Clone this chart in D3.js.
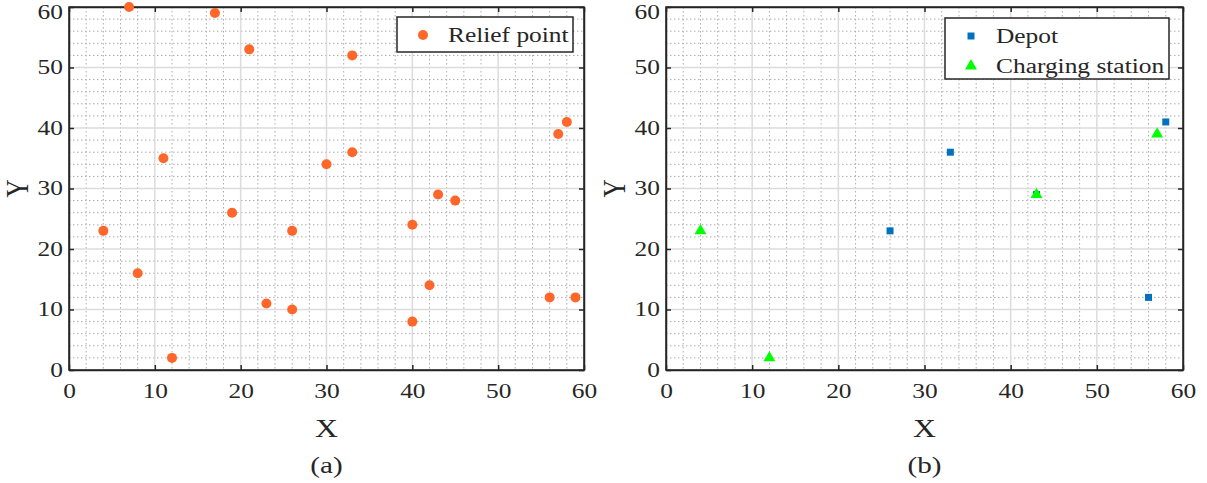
<!DOCTYPE html>
<html>
<head>
<meta charset="utf-8">
<script src="https://cdn.jsdelivr.net/npm/d3@7"></script>
<style>
  html, body { margin: 0; padding: 0; background: #fff; }
  svg text { font-family: "Liberation Serif", "Times New Roman", serif; fill: #262626; }
</style>
</head>
<body>
<svg id="chart" width="1207" height="483"></svg>
<script>
"use strict";

// Relief points (panel a)
const reliefX = [7, 17, 21, 33, 11, 58, 57, 30, 33, 43, 45, 19, 4, 26, 40, 8, 42, 56, 59, 23, 26, 40, 12];
const reliefY = [60, 59, 53, 52, 35, 41, 39, 34, 36, 29, 28, 26, 23, 23, 24, 16, 14, 12, 12, 11, 10, 8, 2];

// Depots and charging stations (panel b)
const depotX = [26, 33, 43, 56, 58];
const depotY = [23, 36, 29, 12, 41];
const chargeX = [4, 12, 43, 57];
const chargeY = [23, 2, 29, 39];

const majorTicks = [0, 10, 20, 30, 40, 50, 60];
const minorTicks = d3.range(0, 61, 2);
const captions = ["(a)", "(b)"];

const SX = 1.27;           // figure was stretched horizontally, text too
const AXIS_COLOR = "#262626";

const svg = d3.select("#chart");

/**
 * Draws one framed panel with grids, ticks and labels, returns the scales.
 */
function drawPanel(left, right, top, bottom, caption) {
  const x = d3.scaleLinear().domain([0, 60]).range([left, right]);
  const y = d3.scaleLinear().domain([0, 60]).range([bottom, top]);
  const g = svg.append("g");

  // minor dotted grid
  g.selectAll("line.minx")
      .data(minorTicks.filter(v => v % 10 !== 0))
    .enter().append("line")
      .attr("x1", d => x(d)).attr("x2", d => x(d))
      .attr("y1", top).attr("y2", bottom)
      .attr("stroke", "#acacac").attr("stroke-width", 1)
      .attr("stroke-dasharray", "1.5,2.5");
  g.selectAll("line.miny")
      .data(minorTicks.filter(v => v % 10 !== 0))
    .enter().append("line")
      .attr("y1", d => y(d)).attr("y2", d => y(d))
      .attr("x1", left).attr("x2", right)
      .attr("stroke", "#acacac").attr("stroke-width", 1)
      .attr("stroke-dasharray", "1.5,2.5");

  // major grid
  g.selectAll("line.majx")
      .data(majorTicks)
    .enter().append("line")
      .attr("x1", d => x(d)).attr("x2", d => x(d))
      .attr("y1", top).attr("y2", bottom)
      .attr("stroke", "#dcdcdc").attr("stroke-width", 1.5);
  g.selectAll("line.majy")
      .data(majorTicks)
    .enter().append("line")
      .attr("y1", d => y(d)).attr("y2", d => y(d))
      .attr("x1", left).attr("x2", right)
      .attr("stroke", "#dcdcdc").attr("stroke-width", 1.5);

  // axes with inward ticks, labels only bottom/left
  const fmtText = sel => sel.selectAll("text")
      .attr("font-size", "20px")
      .style("font-family", "'Liberation Serif', 'Times New Roman', serif")
      .attr("fill", AXIS_COLOR);

  const bottomAxis = g.append("g").attr("transform", `translate(0,${bottom})`)
      .call(d3.axisBottom(x).tickValues(majorTicks).tickSizeInner(-5).tickSizeOuter(0).tickPadding(14));
  bottomAxis.call(fmtText);
  bottomAxis.selectAll("text").attr("transform", `scale(${SX},1)`);

  const leftAxis = g.append("g").attr("transform", `translate(${left},0)`)
      .call(d3.axisLeft(y).tickValues(majorTicks).tickSizeInner(-5).tickSizeOuter(0).tickPadding(6));
  leftAxis.call(fmtText);
  leftAxis.selectAll("text").attr("x", -6 / SX).attr("transform", `scale(${SX},1)`);
  leftAxis.selectAll(".tick").filter(d => d === 60).select("text").attr("dy", "0.55em");

  g.append("g").attr("transform", `translate(0,${top})`)
      .call(d3.axisTop(x).tickValues(majorTicks).tickSizeInner(-5).tickSizeOuter(0).tickFormat(""));
  g.append("g").attr("transform", `translate(${right},0)`)
      .call(d3.axisRight(y).tickValues(majorTicks).tickSizeInner(-5).tickSizeOuter(0).tickFormat(""));

  g.selectAll(".domain, .tick line").attr("stroke", AXIS_COLOR).attr("stroke-width", 1.5);

  // frame
  g.append("rect")
      .attr("x", left).attr("y", top)
      .attr("width", right - left).attr("height", bottom - top)
      .attr("fill", "none").attr("stroke", AXIS_COLOR).attr("stroke-width", 1.5);

  const cx = (left + right) / 2;
  g.append("text")
      .attr("transform", `translate(${cx},${bottom + 67}) scale(${SX},1)`)
      .attr("text-anchor", "middle").attr("font-size", "25px")
      .text("X");
  g.append("text")
      .attr("transform", `translate(${left - 41},${(top + bottom) / 2}) rotate(-90) scale(1,${SX})`)
      .attr("text-anchor", "middle").attr("font-size", "25px")
      .text("Y");
  g.append("text")
      .attr("transform", `translate(${cx},${bottom + 103}) scale(${SX},1)`)
      .attr("text-anchor", "middle").attr("font-size", "23px")
      .text(caption);

  return { x, y, g };
}

function legendBox(x0, y0, w, h, items) {
  const lg = svg.append("g");
  lg.append("rect")
      .attr("x", x0).attr("y", y0).attr("width", w).attr("height", h)
      .attr("fill", "#fff").attr("stroke", AXIS_COLOR).attr("stroke-width", 1.5);
  items.forEach((it, i) => {
    const cy = y0 + 18 + i * 30;
    lg.append("path")
        .attr("d", d3.symbol().type(it.type).size(it.size)())
        .attr("transform", `translate(${x0 + 26},${cy})`)
        .attr("fill", it.color);
    lg.append("text")
        .attr("transform", `translate(${x0 + 51},${cy + 7}) scale(${SX},1)`)
        .attr("font-size", "20px")
        .text(it.label);
  });
}

// panel (a)
const pa = drawPanel(69, 584, 7, 370, captions[0]);
pa.g.selectAll("circle.relief")
    .data(d3.range(reliefX.length))
  .enter().append("circle")
    .attr("cx", i => pa.x(reliefX[i]))
    .attr("cy", i => pa.y(reliefY[i]))
    .attr("r", 5)
    .attr("fill", "#ff6629");
legendBox(397, 17, 176, 35, [
  { type: d3.symbolCircle, size: 78, color: "#ff6629", label: "Relief point" }
]);

// panel (b)
const pb = drawPanel(666, 1183, 7, 370, captions[1]);
pb.g.selectAll("path.depot")
    .data(d3.range(depotX.length))
  .enter().append("path")
    .attr("d", d3.symbol().type(d3.symbolSquare).size(49)())
    .attr("transform", i => `translate(${pb.x(depotX[i])},${pb.y(depotY[i])})`)
    .attr("fill", "#0072bd");
pb.g.selectAll("path.charge")
    .data(d3.range(chargeX.length))
  .enter().append("path")
    .attr("d", d3.symbol().type(d3.symbolTriangle).size(62)())
    .attr("transform", i => `translate(${pb.x(chargeX[i])},${pb.y(chargeY[i])})`)
    .attr("fill", "#00ff00");
legendBox(945, 18, 224, 61, [
  { type: d3.symbolSquare, size: 49, color: "#0072bd", label: "Depot" },
  { type: d3.symbolTriangle, size: 62, color: "#00ff00", label: "Charging station" }
]);
</script>
</body>
</html>
